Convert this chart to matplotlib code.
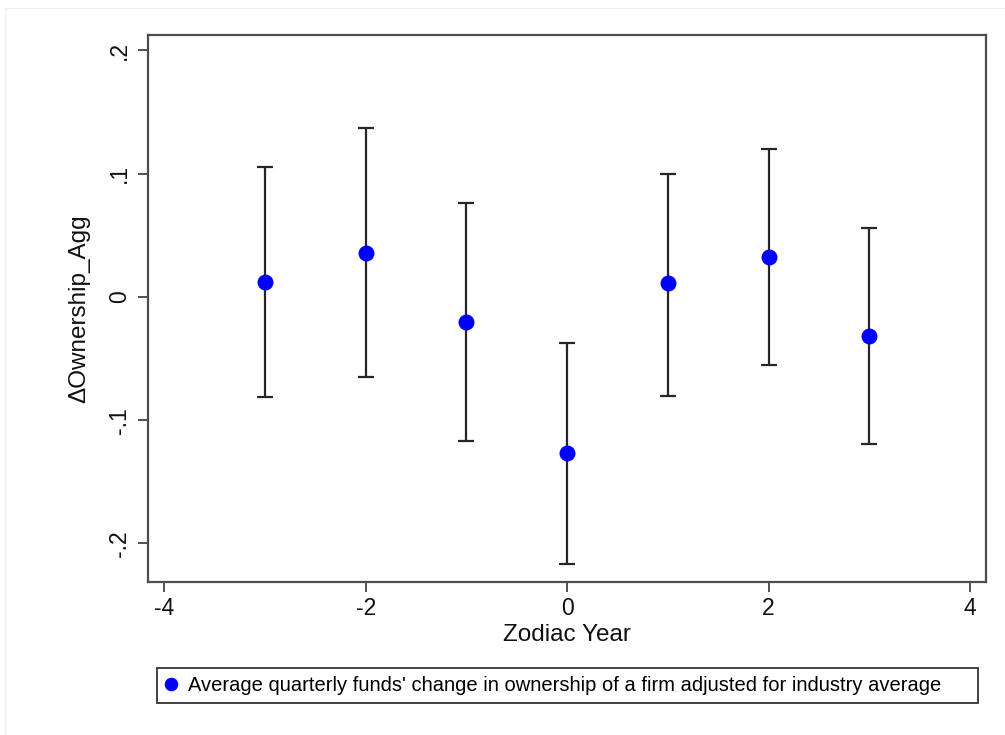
import numpy as np
import matplotlib
matplotlib.use("Agg")
from matplotlib import pyplot as pl
import matplotlib as mpl

mpl.rcParams["font.family"] = ["Liberation Sans", "DejaVu Sans"]
mpl.rcParams["axes.unicode_minus"] = False

# Data
zodiac_year = [-3, -2, -1, 0, 1, 2, 3]
estimate = [0.012, 0.036, -0.020, -0.127, 0.011, 0.032, -0.032]
ci_upper = [0.105, 0.137, 0.076, -0.037, 0.100, 0.120, 0.056]
ci_lower = [-0.081, -0.065, -0.117, -0.217, -0.080, -0.055, -0.119]

x_ticks = [-4, -2, 0, 2, 4]
y_ticks = [-0.2, -0.1, 0, 0.1, 0.2]
y_tick_labels = ["-.2", "-.1", "0", ".1", ".2"]
legend_label = ("Average quarterly funds' change in ownership of a firm "
                "adjusted for industry average")

est = np.array(estimate)
yerr = [est - np.array(ci_lower), np.array(ci_upper) - est]

fig = pl.figure(figsize=(10.05, 7.35), dpi=100)
ax = fig.add_axes([0.1473, 0.2086, 0.834, 0.7438])

ax.errorbar(zodiac_year, estimate, yerr=yerr, fmt="none",
            ecolor="#262626", elinewidth=1.6, capsize=5.5, capthick=1.6,
            zorder=2)
pts, = ax.plot(zodiac_year, estimate, "o", color="#0000ff",
               markersize=11.5, markeredgewidth=0, zorder=3,
               label=legend_label)

ax.set_xlim(-4.16, 4.16)
ax.set_ylim(-0.231, 0.2125)
ax.set_xticks(x_ticks)
ax.set_xticklabels([str(t) for t in x_ticks])
ax.set_yticks(y_ticks)
ax.set_yticklabels(y_tick_labels, rotation=90, va="center")

for side in ["left", "right", "top", "bottom"]:
    ax.spines[side].set_color("#4d4d4d")
    ax.spines[side].set_linewidth(1.6)
ax.tick_params(axis="both", direction="out", length=7, width=1.2,
               color="#333333", labelsize=16.5, labelcolor="#111111")
ax.tick_params(axis="x", pad=4)
ax.tick_params(axis="y", pad=5)

ax.set_xlabel("Zodiac Year", fontsize=17.5, color="#111111", labelpad=3)
ax.set_ylabel("\u0394Ownership_Agg", fontsize=17.5, color="#111111",
              labelpad=13)

fig.legend(handles=[pts], labels=[legend_label],
           loc="center left", mode="expand",
           bbox_to_anchor=(0.156, 0.0395, 0.817, 0.0558),
           fontsize=14.5, frameon=True, fancybox=False,
           edgecolor="#333333", framealpha=1, borderaxespad=0,
           handlelength=0.6, handletextpad=0.55, borderpad=0.4,
           markerscale=0.85)
leg = fig.legends[0]
leg.get_frame().set_linewidth(1.3)

# faint screenshot border
fig.patches.append(mpl.patches.Rectangle((0.005, -0.1), 1.2, 1.089,
                                         transform=fig.transFigure,
                                         fill=False, edgecolor="#f0f0f0",
                                         linewidth=1.0))

fig.savefig("out.png", dpi=100)
pl.close()
